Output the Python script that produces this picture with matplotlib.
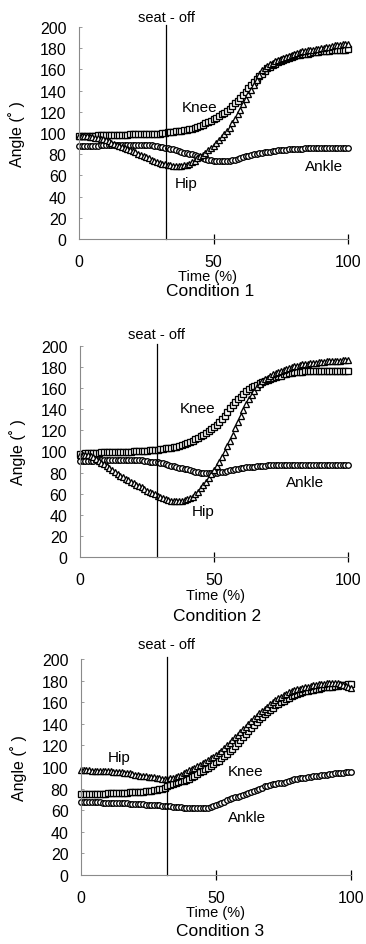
import numpy as np
import matplotlib
matplotlib.use("Agg")
import matplotlib.pyplot as plt

plt.rcParams['font.family'] = ['Liberation Sans', 'DejaVu Sans']

# time axis, every 1 %
time_pct = np.arange(0, 101)

# Condition 1 (one row = 10 %)
knee_1 = [97, 97, 97, 97, 97, 97.5, 97.5, 98, 98, 98,
          98, 98.5, 98.5, 98.5, 98.5, 98.5, 98.5, 98.5, 98.5, 99,
          99, 99, 99, 99, 99, 99, 99, 99.5, 99.5, 99.5,
          99.5, 100, 100, 100.5, 101, 101, 101.5, 102, 102, 102.5,
          103, 103.5, 104, 105, 106, 107, 108, 109, 110, 111.5,
          113, 114.5, 116, 117.5, 119, 121, 123, 125.5, 128, 130.5,
          133, 136, 139, 142, 145, 148, 151, 153.5, 156, 158.5,
          161, 162.5, 164, 165.5, 167, 168, 169, 170, 171, 172,
          173, 173.5, 174, 174.5, 175, 175, 175.5, 176, 176, 176.5,
          177, 177, 177.5, 177.5, 178, 178, 178, 178, 178.5, 178.5,
          179]
hip_1 = [97, 97, 97, 97, 96.5, 96, 95.5, 95, 94.5, 94,
         93, 92, 91, 90, 89, 88, 87, 86, 85, 84,
         83, 82, 80.5, 79, 78, 77, 76, 75, 74, 73,
         72, 71, 70.5, 70, 69.5, 69, 69, 69, 69, 69.5,
         70, 71, 72.5, 74, 76, 78, 79.5, 81.5, 83.5, 86,
         88, 90.5, 93, 96, 99, 102, 105, 109, 113, 117.5,
         122, 127, 132, 136.5, 141, 145.5, 150, 154.5, 159, 161,
         163, 165, 166.5, 168, 169, 170, 171, 172, 173, 174,
         175, 175.5, 176, 177, 177.5, 178, 178.5, 178.5, 179, 179.5,
         180, 180.5, 181, 181.5, 182.5, 183, 183, 183, 183.5, 183.5,
         184]
ankle_1 = [88, 88, 88, 88, 88, 88, 88, 88, 88.5, 88.5,
           89, 89, 89, 89, 89, 89, 89, 89, 89, 89,
           89, 89, 89, 89, 89, 89, 88.5, 88.5, 88, 87.5,
           87, 86.5, 86, 85.5, 85, 84.5, 84, 83, 82.5, 81.5,
           81, 80.5, 80, 79, 78, 77, 76, 75.5, 75, 74.5,
           74, 74, 73.5, 73.5, 73.5, 73.5, 74, 74.5, 75, 75.5,
           76.5, 77, 78, 78.5, 79, 80, 80.5, 81, 81.5, 82,
           82, 82.5, 83, 83, 83.5, 83.5, 84, 84, 84.5, 84.5,
           85, 85, 85, 85, 85.5, 85.5, 85.5, 85.5, 85.5, 85.5,
           86, 86, 86, 86, 86, 86, 86, 86, 86, 86,
           86]

# Condition 2
knee_2 = [98, 98, 98.5, 98.5, 99, 99, 99, 99, 99.5, 99.5,
          99.5, 99.5, 100, 100, 100, 100, 100, 100, 100, 100,
          100.5, 100.5, 100.5, 100.5, 100.5, 100.5, 101, 101, 101.5, 101.5,
          102, 102.5, 103, 103, 103.5, 104, 104.5, 105, 106, 107,
          108, 109, 110, 111.5, 113, 114.5, 116, 117.5, 119, 121,
          123, 125.5, 128, 131, 134, 137.5, 141, 144, 147, 149.5,
          152, 154.5, 157, 159, 161, 162, 163, 164.5, 166, 167,
          168, 169, 170, 171, 171.5, 172, 173, 173.5, 174, 174.5,
          175, 175, 175.5, 175.5, 176, 176, 176, 176, 176, 176,
          176, 176, 176, 176, 176, 176, 176, 176, 176, 176,
          176]
hip_2 = [97, 97, 97, 96.5, 96, 94.5, 93, 91, 89.5, 88,
         86, 84, 82, 80.5, 79, 77, 75.5, 74, 73, 71.5,
         70, 68.5, 67, 66, 64.5, 63, 62, 61, 59.5, 58,
         57, 56, 55, 54, 53.5, 53, 53, 53, 53.5, 54,
         55, 56, 57, 59.5, 62, 65, 68, 71.5, 75, 78.5,
         82, 86, 90, 95, 100, 105, 110, 116, 122, 128,
         134, 139.5, 145, 149.5, 154, 157.5, 161, 164, 167, 168.5,
         170, 171.5, 173, 174, 175, 176, 177, 178, 179, 180,
         181, 181.5, 182, 182.5, 183, 183, 183.5, 183.5, 184, 184.5,
         185, 185, 185.5, 185.5, 186, 186, 186, 186, 186.5, 186.5,
         187]
ankle_2 = [91, 91, 91, 91, 91, 91, 91.5, 91.5, 92, 92,
           92, 92, 92, 92, 92, 92, 92, 92, 92, 92,
           92, 92, 91.5, 91.5, 91, 91, 90.5, 90.5, 90, 90,
           89.5, 89, 88, 87, 86.5, 86, 85, 84.5, 84, 83.5,
           83, 82, 81.5, 81, 80.5, 80, 80, 80, 80, 80,
           80, 80, 80.5, 80.5, 81, 81.5, 82, 82.5, 83, 83.5,
           84, 84.5, 85, 85, 85.5, 85.5, 86, 86, 86.5, 86.5,
           87, 87, 87, 87, 87, 87, 87, 87, 87, 87,
           87, 87, 87, 87, 87, 87, 87, 87, 87, 87,
           87, 87, 87, 87, 87, 87, 87, 87, 87, 87,
           87]

# Condition 3
knee_3 = [75, 75, 75, 75, 75, 75, 75, 75, 75, 75,
          75.5, 75.5, 76, 76, 76, 76, 76, 76, 76.5, 76.5,
          76.5, 76.5, 77, 77, 77.5, 77.5, 78, 78.5, 79, 79.5,
          80, 81, 82, 83, 84, 85, 86, 87, 87.5, 88,
          89, 90.5, 92, 93.5, 95, 96.5, 98, 99.5, 101, 103,
          104.5, 106, 108, 110, 112, 114.5, 117, 119.5, 122, 125,
          128, 131, 133.5, 136, 139, 141.5, 144, 146.5, 149, 151,
          153, 155, 157, 158.5, 160, 161.5, 163, 164, 165.5, 167,
          168, 168.5, 169, 170, 170.5, 171, 171.5, 172, 172.5, 173,
          174, 174, 174.5, 174.5, 175, 175, 175.5, 175.5, 176, 176.5,
          177]
hip_3 = [97, 97, 97, 97, 96.5, 96.5, 96.5, 96.5, 96, 96,
         96, 96, 95.5, 95.5, 95, 95, 94.5, 94.5, 94, 93.5,
         93, 92.5, 92, 92, 91.5, 91, 90.5, 90.5, 90, 89.5,
         89, 89, 89, 89.5, 90, 90.5, 91.5, 92.5, 94, 95.5,
         97, 98, 99.5, 101, 102, 103.5, 105, 106.5, 108, 109.5,
         111, 113, 115, 117.5, 120, 122.5, 125, 127.5, 130, 132.5,
         135, 137.5, 140, 142.5, 145, 147.5, 150, 152, 154, 156,
         158, 160, 162, 163.5, 165, 166.5, 168, 169, 170, 171,
         172, 172.5, 173, 174, 174.5, 175, 175.5, 176, 176.5, 177,
         177, 177.5, 177.5, 178, 178, 177.5, 177, 176, 175, 174,
         173]
ankle_3 = [68, 68, 68, 68, 67.5, 67.5, 67.5, 67.5, 67, 67,
           67, 67, 67, 67, 66.5, 66.5, 66.5, 66.5, 66, 66,
           66, 66, 65.5, 65.5, 65, 65, 65, 65, 64.5, 64.5,
           64, 64, 63.5, 63.5, 63, 63, 63, 63, 62.5, 62.5,
           62, 62, 62, 62, 62, 62, 62.5, 62.5, 63, 63.5,
           64.5, 65.5, 66.5, 68, 69, 70, 71, 72, 72.5, 73.5,
           74, 75, 76, 77, 78, 79, 80, 81, 82, 82.5,
           83, 84, 84.5, 85, 85.5, 85.5, 86.5, 87, 88, 88.5,
           89, 89.5, 90, 90, 90.5, 91, 91.5, 91.5, 92, 92.5,
           93, 93, 93.5, 93.5, 94, 94, 94.5, 94.5, 95, 95,
           95]

seat_off = [32.4, 28.7, 31.7]
conditions = ["Condition 1", "Condition 2", "Condition 3"]

# label positions (time %, angle) for Knee, Hip, Ankle
label_pos = [
    [(45, 125), (40, 53), (91, 69)],
    [(44, 141), (46, 44), (84, 71)],
    [(61, 96), (14, 109), (61.5, 54)],
]

W, H = 366, 945
fig = plt.figure(figsize=(W / 100, H / 100), dpi=100)

# axes boxes in pixels: left, top, right, bottom
boxes = [(79, 28, 348, 240), (80, 347, 348, 558), (81, 660, 351, 876)]
# text anchors in pixels: seat-off, Time, Condition
texts_px = [
    [(166, 18), (208, 277), (210, 292)],
    [(157, 335), (215, 596), (217, 617)],
    [(166, 645), (216, 913), (220, 932)],
]

series = [(knee_1, hip_1, ankle_1), (knee_2, hip_2, ankle_2), (knee_3, hip_3, ankle_3)]
grey = "#8a8a8a"

for i in range(3):
    l, t, r, b = boxes[i]
    ax = fig.add_axes([l / W, 1 - b / H, (r - l) / W, (b - t) / H])
    knee, hip, ankle = series[i]

    mk = dict(linestyle="none", markerfacecolor="white", markeredgecolor="black",
              markeredgewidth=0.95, clip_on=False)
    ax.plot(time_pct, ankle, marker="o", markersize=4.0, **mk)
    ax.plot(time_pct, knee, marker="s", markersize=3.8, **mk)
    ax.plot(time_pct, hip, marker="^", markersize=4.4, **mk)

    ax.axvline(seat_off[i], color="black", linewidth=0.9, ymax=1.01, clip_on=False)

    ax.set_xlim(0, 100)
    ax.set_ylim(0, 200)
    ax.set_xticks([0, 50, 100])
    ax.set_yticks(np.arange(0, 201, 20))
    ax.tick_params(axis="x", direction="inout", length=7, width=0.9, color="black",
                   labelsize=11.5, pad=7)
    ax.tick_params(axis="y", direction="in", length=2.5, width=0.6, color=grey,
                   labelsize=11.5, pad=9)
    ax.xaxis.get_major_ticks()[0].tick1line.set_visible(False)
    for s in ["top", "right"]:
        ax.spines[s].set_visible(False)
    for s in ["left", "bottom"]:
        ax.spines[s].set_color(grey)
        ax.spines[s].set_linewidth(0.8)

    ax.set_ylabel("Angle (˚ )", fontsize=11.5)
    ax.yaxis.set_label_coords(-0.2, 0.5)

    names = ["Knee", "Hip", "Ankle"]
    for name, (px, py) in zip(names, label_pos[i]):
        ax.text(px, py, name, fontsize=11, ha="center", va="center")

    (sx, sy), (tx, ty), (cx, cy) = texts_px[i]
    fig.text(sx / W, 1 - sy / H, "seat - off", fontsize=10.5, ha="center", va="center")
    fig.text(tx / W, 1 - ty / H, "Time (%)", fontsize=10.5, ha="center", va="center")
    fig.text(cx / W, 1 - cy / H, conditions[i], fontsize=12.5, ha="center", va="center")

fig.savefig("out.png", dpi=100)
